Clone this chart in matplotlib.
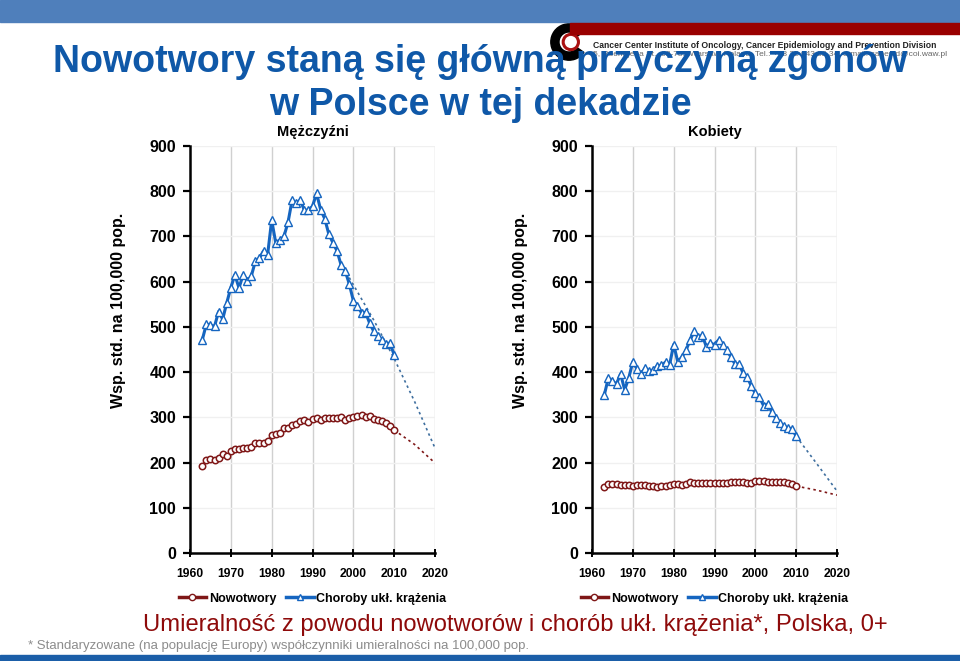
import matplotlib
matplotlib.use("Agg")
import matplotlib.pyplot as plt
from matplotlib import font_manager
from matplotlib.patches import Rectangle, Wedge, Circle
from matplotlib.lines import Line2D

# -----------------------------------
# Data (rates per 100,000, standardised)
# -----------------------------------
years = list(range(1963, 2011))

men_cancer = [192, 206, 207, 206, 211, 218, 215, 225, 231, 229, 233, 232, 234, 244, 243, 244,
              247, 260, 263, 265, 276, 277, 282, 285, 291, 295, 290, 296, 298, 294, 298, 298,
              299, 298, 300, 295, 298, 300, 304, 306, 300, 303, 296, 294, 291, 287, 281, 272]
men_cvd = [471, 506, 504, 501, 534, 517, 553, 587, 615, 586, 615, 602, 612, 645, 652, 668,
           659, 736, 686, 692, 700, 731, 780, 773, 780, 758, 758, 767, 795, 759, 739, 705,
           686, 668, 637, 624, 595, 558, 547, 531, 532, 508, 490, 479, 471, 463, 464, 438]

women_cancer = [146, 152, 153, 152, 151, 151, 150, 149, 151, 151, 150, 149, 148, 146, 149, 149,
                150, 153, 152, 151, 152, 156, 154, 154, 154, 155, 155, 155, 155, 154, 155, 156,
                156, 157, 157, 155, 154, 160, 160, 159, 157, 157, 156, 156, 156, 155, 153, 149]
women_cvd = [349, 387, 380, 374, 396, 361, 387, 423, 407, 395, 409, 402, 405, 414, 415, 422,
             416, 461, 423, 433, 448, 470, 490, 477, 482, 456, 464, 461, 471, 459, 448, 434,
             418, 418, 398, 390, 369, 353, 345, 326, 329, 312, 299, 287, 281, 276, 275, 258]

# trend projections (dotted)
men_cancer_proj_years = [2010, 2015, 2020]
men_cancer_proj = [272, 240, 199]
men_cvd_proj_years = [1999, 2005, 2010, 2015, 2020]
men_cvd_proj = [609, 515, 430, 335, 232]
women_cancer_proj_years = [2010, 2015, 2020]
women_cancer_proj = [148, 139, 128]
women_cvd_proj_years = [2010, 2015, 2020]
women_cvd_proj = [258, 198, 137]

x_ticks = [1960, 1970, 1980, 1990, 2000, 2010, 2020]
y_ticks = [0, 100, 200, 300, 400, 500, 600, 700, 800, 900]

# -----------------------------------
# Fonts / colours
# -----------------------------------
names = {f.name for f in font_manager.fontManager.ttflist}
narrow = "Liberation Sans Narrow" if "Liberation Sans Narrow" in names else "Liberation Sans"
plt.rcParams["font.family"] = ["Liberation Sans", "DejaVu Sans"]

RED = "#7f1717"
BLUE = "#1565c0"
TITLE_BLUE = "#0f58a8"

W, H = 960, 661
fig = plt.figure(figsize=(W / 100, H / 100), dpi=100)


def fx(px):
    return px / W


def fy(py):
    return 1 - py / H


# -----------------------------------
# Slide decoration
# -----------------------------------
fig.patches.append(Rectangle((0, fy(22)), 1, 22 / H, transform=fig.transFigure,
                             color="#4f7fbb", zorder=0))
fig.patches.append(Rectangle((fx(570), fy(34)), 1, 11 / H, transform=fig.transFigure,
                             color="#990000", zorder=0))
fig.patches.append(Rectangle((0, 0), 1, 6 / H, transform=fig.transFigure,
                             color="#1b5ea8", zorder=0))

# logo
lax = fig.add_axes([fx(549), fy(62), 40 / W, 40 / H])
lax.set_xlim(-1.1, 1.1)
lax.set_ylim(-1.1, 1.1)
lax.set_aspect("equal")
lax.axis("off")
lax.add_patch(Circle((0, 0), 1.0, color="white"))
lax.add_patch(Wedge((0, 0), 1.0, 35, 325, width=0.45, color="black"))
lax.add_patch(Circle((0.1, 0), 0.42, fill=False, ec="#aa1111", lw=2.2))

# institute text (the big title sits partly on top of it, as on the slide)
fig.text(fx(593), fy(45), "Cancer Center Institute of Oncology, Cancer Epidemiology and Prevention Division",
         fontsize=6.2, fontweight="bold", color="#222222", va="center")
fig.text(fx(593), fy(55), "5, Roentgena St., 02-781 Warsaw, Poland, Tel.: +48 22 643 92 34, e-mail: canepid@coi.waw.pl",
         fontsize=6.0, color="#666666", va="center")

# titles
big = 32 if narrow != "Liberation Sans" else 27
fig.text(0.5, fy(62), "Nowotwory staną się główną przyczyną zgonów", ha="center", va="center",
         fontsize=big, fontweight="bold", family=[narrow, "DejaVu Sans"], color=TITLE_BLUE, zorder=5)
fig.text(0.5, fy(105), "w Polsce w tej dekadzie", ha="center", va="center",
         fontsize=big, fontweight="bold", family=[narrow, "DejaVu Sans"], color=TITLE_BLUE, zorder=5)

fig.text(fx(515), fy(625), "Umieralność z powodu nowotworów i chorób ukł. krążenia*, Polska, 0+",
         ha="center", va="center", fontsize=17 if narrow != "Liberation Sans" else 17.1,
         family=[narrow, "DejaVu Sans"], color="#8e0a0a")
fig.text(fx(28), fy(646), "* Standaryzowane (na populację Europy) współczynniki umieralności na 100,000 pop.",
         ha="left", va="center", fontsize=9.5,
         family=[narrow, "DejaVu Sans"], color="#8c8c8c")


# -----------------------------------
# Panels
# -----------------------------------
def panel(left_px, title, cancer, cvd, c_py, c_pv, v_py, v_pv, ylab_px):
    ax = fig.add_axes([fx(left_px), fy(553), 245 / W, 407 / H])
    ax.set_xlim(1960, 2020)
    ax.set_ylim(0, 900)
    ax.set_xticks(x_ticks)
    ax.set_yticks(y_ticks)
    ax.tick_params(axis="y", direction="out", length=5, width=1.6, labelsize=11.5, pad=5)
    ax.tick_params(axis="x", direction="inout", length=6, width=1.4, labelsize=8.7, pad=8)
    for lab in ax.get_xticklabels() + ax.get_yticklabels():
        lab.set_fontweight("bold")
    for s in ["top", "right"]:
        ax.spines[s].set_visible(False)
    for s in ["left", "bottom"]:
        ax.spines[s].set_linewidth(1.8)
    for xt in x_ticks[1:]:
        ax.axvline(xt, color="#d0d0d0", lw=1, zorder=0)
    for yt in y_ticks[1:]:
        ax.axhline(yt, color="#f0f0f0", lw=1, zorder=0)

    ax.plot(v_py, v_pv, ls=(0, (1.5, 2)), color="#3f6f9f", lw=1.2, zorder=2)
    ax.plot(c_py, c_pv, ls=(0, (1.5, 2)), color=RED, lw=1.2, zorder=2)
    ax.plot(years, cancer, color=RED, lw=1.6, marker="o", ms=4.6, mfc="white",
            mec=RED, mew=1.1, zorder=3)
    ax.plot(years, cvd, color=BLUE, lw=2.2, marker="^", ms=5.3, mfc="white",
            mec=BLUE, mew=1.0, zorder=3)

    ax.set_title(title, fontsize=10.5, fontweight="bold", pad=7)
    fig.text(fx(ylab_px), fy(310), "Wsp. std. na 100,000 pop.", rotation=90,
             ha="center", va="center", fontsize=11.5, fontweight="bold")

    handles = [
        Line2D([], [], color=RED, lw=2.5, marker="o", ms=4.5, mfc="white", mec=RED),
        Line2D([], [], color=BLUE, lw=2.5, marker="^", ms=5, mfc="white", mec=BLUE),
    ]
    ax.legend(handles, ["Nowotwory", "Choroby ukł. krążenia"], loc="center",
              bbox_to_anchor=(0.5, -0.112), ncol=2, frameon=False,
              prop={"size": 9, "weight": "bold"}, handlelength=2.2,
              handletextpad=0.2, columnspacing=0.8)
    return ax


panel(190, "Mężczyźni", men_cancer, men_cvd, men_cancer_proj_years, men_cancer_proj,
      men_cvd_proj_years, men_cvd_proj, 118)
panel(592, "Kobiety", women_cancer, women_cvd, women_cancer_proj_years, women_cancer_proj,
      women_cvd_proj_years, women_cvd_proj, 520)

fig.savefig("out.png", dpi=100)
